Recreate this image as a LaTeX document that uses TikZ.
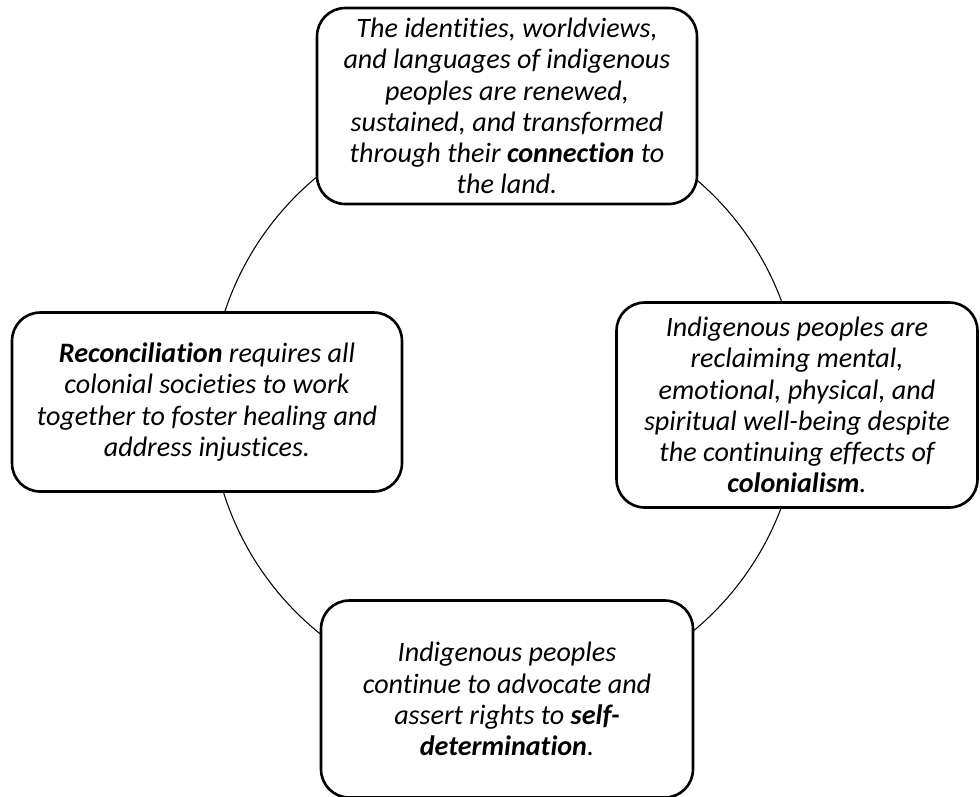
\documentclass[tikz,border=0pt]{standalone}
\usepackage{fontspec}
\setmainfont{Carlito}[Ligatures=NoCommon]
\usetikzlibrary{positioning}
\tikzset{
	ideabox/.style={rectangle, draw=black, line width=1.5pt, rounded corners=16pt,
		fill=white, align=center, font=\fontsize{16}{17.8}\selectfont\itshape, inner sep=2pt},
	ringline/.style={draw=black, line width=0.6pt}
}

\begin{document}
\begin{tikzpicture}[x=0.02cm, y=-0.02cm]
	\useasboundingbox (0,0) rectangle (980,796);
	\coordinate (hub) at (505,404);
	\draw[ringline] (hub) circle[radius=5.9cm];
	\node[ideabox, minimum width=7.6cm, minimum height=3.92cm] (land) at (507,106)
		{The identities, worldviews,\\and languages of indigenous\\peoples are renewed,\\sustained, and transformed\\through their \textbf{connection} to\\the land.};
	\node[ideabox, minimum width=7.22cm, minimum height=4.1cm] (wellbeing) at (797,405)
		{Indigenous peoples are\\reclaiming mental,\\emotional, physical, and\\spiritual well-being despite\\the continuing effects of\\\textbf{colonialism}.};
	\node[ideabox, minimum width=7.44cm, minimum height=3.94cm] (selfdet) at (507,699)
		{Indigenous peoples\\continue to advocate and\\assert rights to \textbf{self-}\\\textbf{determination}.};
	\node[ideabox, minimum width=7.8cm, minimum height=3.58cm] (recon) at (207,402)
		{\textbf{Reconciliation} requires all\\colonial societies to work\\together to foster healing and\\address injustices.};
\end{tikzpicture}
\end{document}
